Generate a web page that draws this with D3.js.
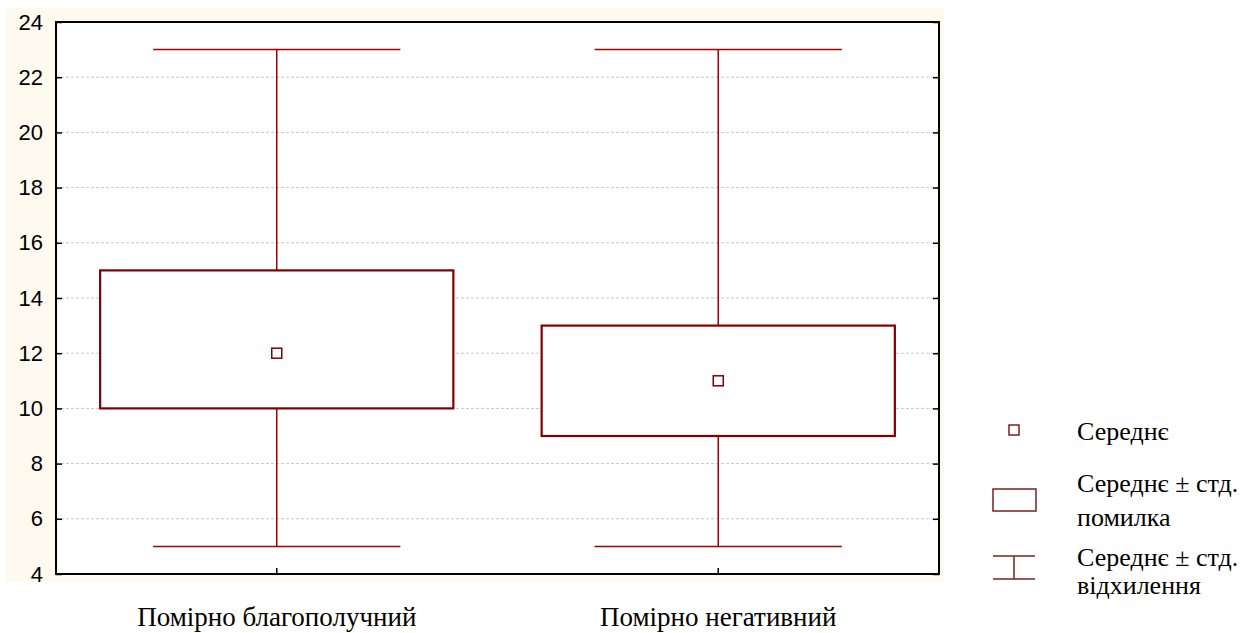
<!DOCTYPE html>
<html><head><meta charset="utf-8">
<script src="https://cdn.jsdelivr.net/npm/d3@7"></script>
<style>body{margin:0;background:#fff}svg{display:block}</style>
</head><body>
<svg id="c" width="1256" height="633"></svg>
<script>
const categories = ["Помірно благополучний", "Помірно негативний"];
const means = [12, 11];
const seLow = [10, 9];
const seHigh = [15, 13];
const sdLow = [5, 5];
const sdHigh = [23, 23];
const yTicks = [4, 6, 8, 10, 12, 14, 16, 18, 20, 22, 24];
const legendLabels = [["Середнє"], ["Середнє ± стд.", "помилка"], ["Середнє ± стд.", "відхилення"]];

const svg = d3.select("#c");
const L = 56, R = 939, T = 22, B = 574;
const dark = "#800000";
svg.append("rect").attr("x", 6).attr("y", 8).attr("width", 938).attr("height", 574).attr("fill", "#fffaf0");
svg.append("rect").attr("x", L).attr("y", T).attr("width", R - L).attr("height", B - T).attr("fill", "#fff");

const y = d3.scaleLinear().domain([4, 24]).range([B, T]);
const x = d3.scaleBand().domain(categories).range([L, R]).padding(0);
const bw = x.bandwidth();

svg.append("g").selectAll("line").data(yTicks.filter(t => t > 4 && t < 24)).join("line")
  .attr("x1", L).attr("x2", R).attr("y1", d => y(d)).attr("y2", d => y(d))
  .attr("stroke", "#c8c8c8").attr("stroke-width", 1).attr("stroke-dasharray", "3,2");

const g = svg.append("g").selectAll("g").data(categories).join("g");
const cx = (d) => x(d) + bw / 2;
const wc = "#a00000";
g.append("line").attr("x1", cx).attr("x2", cx)
  .attr("y1", (d, i) => y(sdHigh[i])).attr("y2", (d, i) => y(seHigh[i])).attr("stroke", wc).attr("stroke-width", 1.5);
g.append("line").attr("x1", cx).attr("x2", cx)
  .attr("y1", (d, i) => y(seLow[i])).attr("y2", (d, i) => y(sdLow[i])).attr("stroke", wc).attr("stroke-width", 1.5);
g.append("line").attr("x1", d => cx(d) - bw * 0.28).attr("x2", d => cx(d) + bw * 0.28)
  .attr("y1", (d, i) => y(sdHigh[i])).attr("y2", (d, i) => y(sdHigh[i])).attr("stroke", wc).attr("stroke-width", 1.5);
g.append("line").attr("x1", d => cx(d) - bw * 0.28).attr("x2", d => cx(d) + bw * 0.28)
  .attr("y1", (d, i) => y(sdLow[i])).attr("y2", (d, i) => y(sdLow[i])).attr("stroke", wc).attr("stroke-width", 1.5);
g.append("rect").attr("x", d => cx(d) - bw * 0.4).attr("width", bw * 0.8)
  .attr("y", (d, i) => y(seHigh[i])).attr("height", (d, i) => y(seLow[i]) - y(seHigh[i]))
  .attr("fill", "#fff").attr("stroke", dark).attr("stroke-width", 2.2);
g.append("rect").attr("x", d => cx(d) - 5).attr("width", 10)
  .attr("y", (d, i) => y(means[i]) - 5).attr("height", 10)
  .attr("fill", "#fff").attr("stroke", dark).attr("stroke-width", 1.5);

const frame = svg.append("g").attr("stroke", "#000").attr("stroke-width", 2).attr("fill", "none");
frame.append("rect").attr("x", L).attr("y", T).attr("width", R - L).attr("height", B - T);

const ya = d3.axisLeft(y).tickValues(yTicks).tickSize(-6).tickPadding(13).tickFormat(d3.format("d"));
const yg = svg.append("g").attr("transform", `translate(${L},0)`).call(ya);
yg.select(".domain").remove();
yg.selectAll("line").attr("stroke", "#000").attr("stroke-width", 1.5);
yg.selectAll("text").attr("font-family", "Liberation Sans, Arial, sans-serif").attr("font-size", 22).attr("fill", "#000");
const yr = d3.axisRight(y).tickValues(yTicks).tickSize(-6).tickFormat("");
const yrg = svg.append("g").attr("transform", `translate(${R},0)`).call(yr);
yrg.select(".domain").remove();
yrg.selectAll("line").attr("stroke", "#000").attr("stroke-width", 1.5);

const xa = d3.axisBottom(x).tickSize(-6).tickPadding(0);
const xg = svg.append("g").attr("transform", `translate(0,${B})`).call(xa);
xg.select(".domain").remove();
xg.selectAll("line").attr("stroke", "#000").attr("stroke-width", 1.5);
xg.selectAll("text").attr("dy", null).attr("y", 52).attr("font-family", "'Liberation Serif', 'Times New Roman', serif").attr("font-size", 27).attr("fill", "#000");

const lg = svg.append("g").attr("font-family", "'Liberation Serif', 'Times New Roman', serif").attr("font-size", 26).attr("fill", "#000");
const lc = "#7a2020";
lg.append("rect").attr("x", 1009).attr("y", 425).attr("width", 10).attr("height", 10).attr("fill", "#fff").attr("stroke", lc).attr("stroke-width", 1.5);
lg.append("rect").attr("x", 993).attr("y", 489).attr("width", 43).attr("height", 22).attr("fill", "#fff").attr("stroke", lc).attr("stroke-width", 1.5);
lg.append("line").attr("x1", 993).attr("x2", 1035).attr("y1", 556).attr("y2", 556).attr("stroke", lc).attr("stroke-width", 1.5);
lg.append("line").attr("x1", 993).attr("x2", 1035).attr("y1", 579).attr("y2", 579).attr("stroke", lc).attr("stroke-width", 1.5);
lg.append("line").attr("x1", 1014).attr("x2", 1014).attr("y1", 556).attr("y2", 579).attr("stroke", lc).attr("stroke-width", 1.5);
const ys = [[440], [492, 526], [566, 594]];
legendLabels.forEach((lines, i) => {
  lines.forEach((t, j) => lg.append("text").attr("x", 1077).attr("y", ys[i][j]).text(t));
});
</script>
</body></html>
